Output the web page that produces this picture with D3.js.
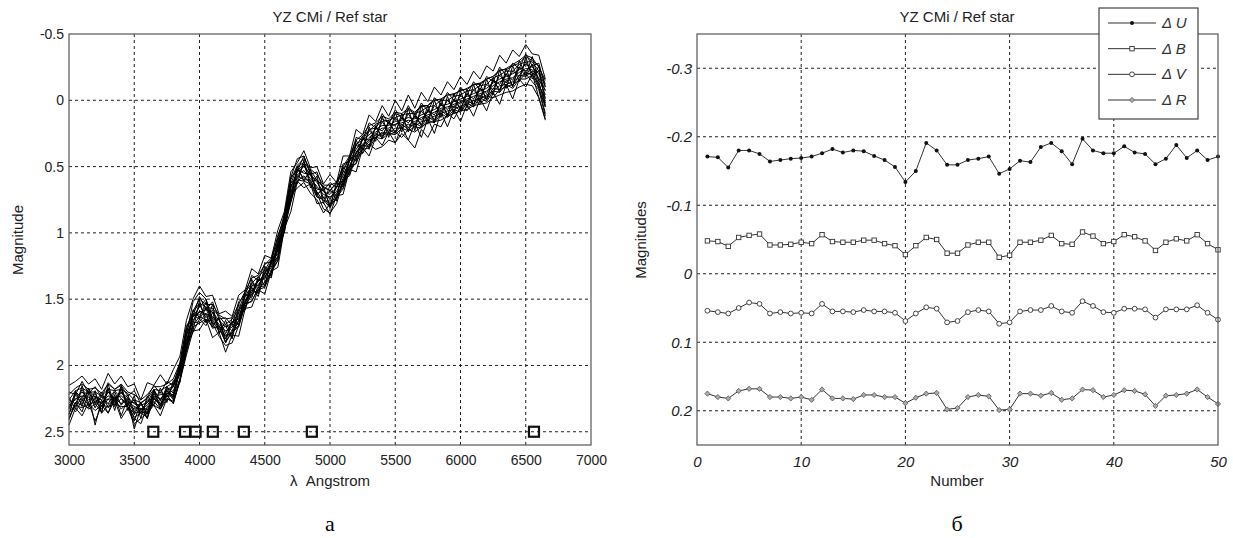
<html lang="en">
<head>
<meta charset="UTF-8">
<title>YZ CMi / Ref star</title>
<style>
  body { margin: 0; background: #fff; }
  text { font-family: "Liberation Sans", Arial, sans-serif; fill: #222; }
  .frame { fill: none; stroke: #555; stroke-width: 1.2px; }
  .grid { stroke: #222; stroke-width: 1px; stroke-dasharray: 3,3; fill: none; }
  .spec { fill: none; stroke: #000; stroke-width: 1px; stroke-linejoin: round; }
  .ser { fill: none; stroke: #333; stroke-width: 1px; }
  .tick text { font-size: 14px; }
  .ital .tick text { font-style: italic; font-size: 15px; }
  .cap { font-family: "Liberation Serif", "DejaVu Serif", serif; font-size: 22px; fill: #000; }
</style>
</head>
<body>
<script src="https://cdnjs.cloudflare.com/ajax/libs/d3/7.8.5/d3.min.js"></script>
<script>

// ---- panel a: spectra (magnitudes, x100), sampled every 50 A from 3000 to 6650
var wl = d3.range(3000, 6651, 50);
var spectra = [
  [232,221,226,220,228,224,226,219,225,229, 233,229,234,218,227,216,221,201,184,161, 162,156,165,165,176,167,165,147,145,135, 135,121,116,88,71,52,55,56,67,68, 75,65,61,45,41,29,30,21,23,17, 19,13,17,12,15,8,11,3,7,0, 3,-5,-1,-9,-5,-15,-12,-20,-15,-25, -22,-27,-15,-8],
  [235,231,224,230,227,233,225,230,225,231, 236,235,236,225,230,223,223,210,186,170, 163,166,166,174,177,176,166,156,146,143, 137,130,117,98,73,61,57,63,69,76, 76,74,62,54,42,37,31,28,24,25, 21,21,18,20,16,15,12,10,8,7, 4,3,0,-1,-4,-7,-11,-12,-14,-17, -21,-19,-13,2],
  [226,219,217,220,220,223,218,219,218,221, 226,228,225,218,219,216,213,200,175,160, 153,156,157,163,169,165,158,145,138,133, 128,120,107,87,63,50,47,53,60,65, 68,63,54,43,34,27,23,18,16,15, 13,11,10,10,8,5,4,0,0,-3, -4,-7,-8,-11,-12,-17,-19,-22,-22,-27, -29,-29,-22,-10],
  [239,230,232,229,234,230,231,229,231,231, 239,236,239,227,233,225,227,211,190,171, 168,165,171,172,182,175,171,155,151,143, 141,130,121,97,77,60,61,63,73,75, 81,73,67,53,47,37,36,28,29,25, 26,21,23,20,21,15,17,10,13,7, 9,2,5,-2,1,-7,-6,-12,-9,-16, -16,-19,-9,5],
  [222,217,214,218,217,221,214,218,214,220, 222,226,222,216,216,214,210,198,172,159, 150,154,154,162,165,164,154,144,134,132, 124,119,104,86,60,49,44,52,56,64, 64,62,50,42,30,26,19,17,12,14, 9,10,6,9,4,4,0,-1,-4,-4, -8,-8,-12,-12,-16,-18,-23,-23,-26,-28, -33,-30,-26,-12],
  [237,222,229,219,232,222,229,220,230,224, 237,228,237,219,231,216,225,203,187,162, 165,157,169,165,180,167,169,147,149,135, 139,122,119,89,75,52,59,55,71,67, 79,65,65,45,45,29,34,20,27,17, 24,13,21,12,19,7,15,2,11,-1, 7,-5,3,-9,-1,-15,-8,-20,-11,-25, -18,-27,-11,-2],
  [226,229,218,228,221,231,218,228,218,230, 226,236,226,226,220,224,214,207,176,168, 154,164,158,172,169,174,158,154,138,142, 128,129,108,96,64,59,48,62,60,74, 68,72,54,52,34,36,23,27,16,24, 13,20,10,19,8,14,4,9,0,6, -4,2,-8,-2,-12,-8,-19,-13,-22,-18, -29,-20,-22,-1],
  [228,226,220,226,223,229,220,226,220,228, 228,234,228,224,222,222,216,204,182,163, 156,150,165,170,178,176,166,152,140,140, 130,122,110,90,58,44,42,55,70,82, 85,78,62,50,40,34,30,28,25,26, 24,28,22,24,20,17,16,15,12,10, 8,7,4,3,2,-2,-4,-6,-7,-10, -12,-11,-2,15],
  [240,228,235,221,245,226,236,222,238,225, 248,232,240,224,230,221,222,203,177,152, 145,150,168,178,185,183,170,152,145,136, 134,124,113,93,66,53,48,57,60,66, 68,62,52,44,33,30,22,21,14,17, 10,12,7,10,5,4,-1,0,-4,-5, -7,-9,-12,-13,-16,-18,-22,-24,-27,-30, -34,-32,-25,-15],
  [231,225,223,224,226,228,223,224,223,227, 231,233,230,223,225,221,219,206,181,166, 159,161,163,169,174,171,163,151,143,139, 133,126,113,93,69,56,53,59,65,71, 73,69,59,49,39,33,28,24,21,21, 18,17,15,16,13,11,9,6,5,3, 1,-1,-3,-5,-7,-11,-14,-16,-17,-21, -24,-23,-17,-4],
  [229,235,226,233,229,220,232,224,229,222, 235,228,240,221,229,219,226,212,185,175, 165,170,160,175,170,180,160,158,141,148, 130,134,110,100,72,66,62,70,75,85, 78,75,60,57,42,40,33,37,35,30, 32,25,30,36,22,28,18,20,10,14, 5,8,0,3,-3,-2,-8,-10,-12,-15, -20,-14,-8,12],
  [233,220,224,218,224,226,220,225,221,224, 229,230,228,219,226,218,216,201,178,163, 160,158,160,166,171,168,160,148,140,137, 131,123,111,90,66,54,50,56,62,69, 71,66,57,46,37,30,26,22,19,19, 16,15,13,14,11,9,7,4,3,1, -1,-3,-5,-7,-9,-13,-16,-18,-20,-23, -27,-25,-20,-7],
  [237,219,231,217,229,235,217,234,216,231, 242,228,236,219,233,218,224,200,188,158, 164,152,171,164,183,164,170,143,148,133, 140,121,121,86,75,50,61,52,72,65, 81,62,65,42,46,27,37,19,29,15, 25,10,24,10,19,4,17,-1,12,-5, 8,-8,5,-13,0,-17,-6,-24,-10,-30, -19,-33,-14,5],
  [224,233,215,231,219,236,214,231,215,234, 223,240,223,230,217,228,211,213,172,174, 151,168,154,176,166,179,154,158,135,146, 125,133,104,100,61,63,45,66,57,78, 64,76,50,56,30,40,20,31,12,28, 9,24,6,23,4,18,0,13,-3,10, -7,6,-12,2,-16,-4,-23,-9,-26,-14, -33,-16,-26,4],
  [241,228,230,232,224,236,230,225,233,228, 240,244,231,230,233,222,229,210,188,168, 167,161,172,170,183,174,170,153,152,141, 140,128,121,95,76,57,60,60,73,73, 80,70,66,50,48,34,35,25,28,22, 25,18,22,17,20,12,16,7,12,4, 8,0,3,-4,-1,-9,-8,-15,-11,-19, -18,-22,-10,10],
  [220,222,212,221,216,224,213,218,215,223, 219,229,224,215,221,212,215,198,170,163, 148,158,152,165,164,170,152,147,132,136, 123,122,102,89,58,53,42,56,54,68, 62,66,48,46,28,30,17,21,10,18, 7,14,4,13,2,8,-2,3,-6,0, -10,-4,-14,-8,-18,-14,-25,-19,-28,-24, -35,-26,-28,-10],
  [245,232,238,228,242,230,236,226,240,232, 244,240,236,230,238,225,228,212,192,174, 173,165,179,175,190,177,178,157,156,143, 146,129,126,97,84,61,66,63,78,77, 86,72,71,52,54,36,42,28,34,24, 32,20,30,17,28,14,25,9,20,7, 16,3,12,-1,8,-6,3,-12,-1,-16, -10,-20,-2,14],
  [215,212,208,214,210,218,206,214,208,216, 214,226,213,215,207,214,203,193,166,150, 140,148,147,161,159,163,147,143,127,131, 117,119,98,84,54,47,38,51,50,63, 56,62,42,42,22,26,11,16,4,12, 0,8,-4,6,-6,1,-10,-4,-14,-8, -18,-12,-22,-16,-26,-22,-34,-28,-38,-33, -42,-35,-34,-16]
];
// Balmer line markers
var lines = [3646, 3889, 3970, 4102, 4340, 4861, 6563];
var linesMag = 2.5;
var xTicksA = [3000, 3500, 4000, 4500, 5000, 5500, 6000, 6500, 7000];
var yTicksA = [-0.5, 0, 0.5, 1, 1.5, 2, 2.5];

// ---- panel b: differential magnitudes for 50 frames
var frames = d3.range(1, 51);
var dU = [-0.171,-0.170,-0.155,-0.180,-0.180,-0.175,-0.164,-0.166,-0.168,-0.169,
          -0.171,-0.176,-0.182,-0.177,-0.180,-0.179,-0.172,-0.166,-0.156,-0.134,
          -0.150,-0.191,-0.180,-0.159,-0.159,-0.166,-0.168,-0.171,-0.146,-0.153,
          -0.165,-0.163,-0.185,-0.191,-0.179,-0.160,-0.197,-0.180,-0.176,-0.176,
          -0.186,-0.177,-0.175,-0.160,-0.168,-0.188,-0.169,-0.180,-0.166,-0.171];
var dB = [-0.048,-0.047,-0.040,-0.053,-0.056,-0.058,-0.042,-0.042,-0.043,-0.046,
          -0.044,-0.057,-0.047,-0.046,-0.046,-0.049,-0.049,-0.044,-0.041,-0.028,
          -0.041,-0.053,-0.050,-0.030,-0.030,-0.042,-0.046,-0.046,-0.024,-0.027,
          -0.046,-0.046,-0.049,-0.056,-0.044,-0.043,-0.061,-0.055,-0.044,-0.047,
          -0.057,-0.054,-0.048,-0.034,-0.046,-0.051,-0.048,-0.057,-0.044,-0.035];
var dV = [0.054,0.056,0.058,0.050,0.042,0.044,0.058,0.056,0.058,0.057,
          0.058,0.044,0.055,0.055,0.056,0.053,0.055,0.055,0.057,0.069,
          0.058,0.049,0.051,0.071,0.069,0.056,0.053,0.055,0.073,0.071,
          0.055,0.053,0.053,0.047,0.055,0.057,0.040,0.047,0.056,0.057,
          0.051,0.051,0.052,0.064,0.052,0.052,0.052,0.046,0.057,0.067];
var dR = [0.175,0.180,0.182,0.171,0.168,0.168,0.180,0.180,0.182,0.180,
          0.184,0.169,0.182,0.182,0.183,0.177,0.177,0.180,0.180,0.189,
          0.181,0.175,0.174,0.198,0.196,0.180,0.177,0.179,0.199,0.198,
          0.175,0.175,0.178,0.174,0.184,0.182,0.169,0.170,0.180,0.177,
          0.170,0.171,0.176,0.193,0.178,0.177,0.175,0.169,0.180,0.190];
var seriesNames = ["U", "B", "V", "R"];
var xTicksB = [0, 10, 20, 30, 40, 50];
var yTicksB = [-0.3, -0.2, -0.1, 0, 0.1, 0.2];

var svg = d3.select("body").append("svg")
  .attr("width", 1233)
  .attr("height", 538);

svg.append("rect").attr("width", 1233).attr("height", 538).attr("fill", "#fff");

// ================= panel a =================
var xa = d3.scaleLinear().domain([3000, 7000]).range([69, 591]),
    ya = d3.scaleLinear().domain([-0.5, 2.6]).range([34, 445]);

var ga = svg.append("g");

ga.selectAll(".gx").data(xTicksA.slice(1, -1)).enter().append("line")
  .attr("class", "grid")
  .attr("x1", xa).attr("x2", xa)
  .attr("y1", ya.range()[0]).attr("y2", ya.range()[1]);

ga.selectAll(".gy").data(yTicksA.slice(1)).enter().append("line")
  .attr("class", "grid")
  .attr("x1", xa.range()[0]).attr("x2", xa.range()[1])
  .attr("y1", ya).attr("y2", ya);

var lineA = d3.line()
  .x(function(d) { return xa(d[0]); })
  .y(function(d) { return ya(d[1]); });

ga.selectAll(".spec").data(spectra).enter().append("path")
  .attr("class", "spec")
  .attr("d", function(row) {
    return lineA(row.map(function(v, i) { return [wl[i], v / 100]; }));
  });

ga.selectAll(".mk").data(lines).enter().append("rect")
  .attr("x", function(d) { return xa(d) - 5; })
  .attr("y", ya(linesMag) - 5)
  .attr("width", 10).attr("height", 10)
  .attr("fill", "none").attr("stroke", "#111").attr("stroke-width", 2.2);

ga.append("rect").attr("class", "frame")
  .attr("x", 69).attr("y", 34).attr("width", 591 - 69).attr("height", 445 - 34);

ga.append("g")
  .attr("transform", "translate(0,445)")
  .call(d3.axisBottom(xa).tickValues(xTicksA).tickSize(0).tickPadding(10).tickFormat(String))
  .call(function(g) { g.select(".domain").remove(); });

ga.append("g")
  .attr("transform", "translate(69,0)")
  .call(d3.axisLeft(ya).tickValues(yTicksA).tickSize(0).tickPadding(5).tickFormat(String))
  .call(function(g) { g.select(".domain").remove(); });

ga.selectAll(".tick text").attr("fill", "#222");

ga.append("text").attr("x", 330).attr("y", 22).attr("text-anchor", "middle")
  .style("font-size", "15px").text("YZ CMi / Ref star");
ga.append("text").attr("x", 330).attr("y", 486).attr("text-anchor", "middle")
  .style("font-size", "15px").text("\u03bb\u00a0\u00a0Angstrom");
ga.append("text").attr("transform", "translate(23,240) rotate(-90)").attr("text-anchor", "middle")
  .style("font-size", "15px").text("Magnitude");
ga.append("text").attr("class", "cap").attr("x", 330).attr("y", 531).attr("text-anchor", "middle").text("\u0430");

// ================= panel b =================
var xb = d3.scaleLinear().domain([0, 50]).range([697, 1218]),
    yb = d3.scaleLinear().domain([-0.35, 0.25]).range([34, 445]);

var gb = svg.append("g");

gb.selectAll(".gx").data(xTicksB.slice(1, -1)).enter().append("line")
  .attr("class", "grid")
  .attr("x1", xb).attr("x2", xb)
  .attr("y1", yb.range()[0]).attr("y2", yb.range()[1]);

gb.selectAll(".gy").data(yTicksB).enter().append("line")
  .attr("class", "grid")
  .attr("x1", xb.range()[0]).attr("x2", xb.range()[1])
  .attr("y1", yb).attr("y2", yb);

var lineB = d3.line()
  .x(function(d, i) { return xb(frames[i]); })
  .y(function(d) { return yb(d); });

var allSeries = [dU, dB, dV, dR];

var markers = {
  U: function(sel) {
    sel.append("circle").attr("r", 2).attr("fill", "#111").attr("stroke", "none");
  },
  B: function(sel) {
    sel.append("rect").attr("x", -2.2).attr("y", -2.2).attr("width", 4.4).attr("height", 4.4)
      .attr("fill", "#fff").attr("stroke", "#333").attr("stroke-width", 0.9);
  },
  V: function(sel) {
    sel.append("circle").attr("r", 2.4).attr("fill", "#fff").attr("stroke", "#333").attr("stroke-width", 0.9);
  },
  R: function(sel) {
    sel.append("path").attr("d", "M0,-2.6L2.6,0L0,2.6L-2.6,0Z")
      .attr("fill", "#aaa").attr("stroke", "#555").attr("stroke-width", 0.8);
  }
};

allSeries.forEach(function(vals, k) {
  gb.append("path").attr("class", "ser").attr("d", lineB(vals));
  gb.selectAll(".m" + k).data(vals).enter().append("g")
    .attr("transform", function(d, i) { return "translate(" + xb(frames[i]) + "," + yb(d) + ")"; })
    .call(markers[seriesNames[k]]);
});

gb.append("rect").attr("class", "frame")
  .attr("x", 697).attr("y", 34).attr("width", 1218 - 697).attr("height", 445 - 34);

gb.append("g").attr("class", "ital")
  .attr("transform", "translate(0,445)")
  .call(d3.axisBottom(xb).tickValues(xTicksB).tickSize(0).tickPadding(11).tickFormat(String))
  .call(function(g) { g.select(".domain").remove(); });

gb.append("g").attr("class", "ital")
  .attr("transform", "translate(697,0)")
  .call(d3.axisLeft(yb).tickValues(yTicksB).tickSize(0).tickPadding(5).tickFormat(String))
  .call(function(g) { g.select(".domain").remove(); });

gb.selectAll(".tick text").attr("fill", "#333");

gb.append("text").attr("x", 957).attr("y", 22).attr("text-anchor", "middle")
  .style("font-size", "15px").text("YZ CMi / Ref star");
gb.append("text").attr("x", 957).attr("y", 486).attr("text-anchor", "middle")
  .style("font-size", "15px").text("Number");
gb.append("text").attr("transform", "translate(646,240) rotate(-90)").attr("text-anchor", "middle")
  .style("font-size", "15px").text("Magnitudes");
gb.append("text").attr("class", "cap").attr("x", 957).attr("y", 531).attr("text-anchor", "middle").text("\u0431");

// legend
var leg = gb.append("g");
leg.append("rect").attr("x", 1099).attr("y", 8).attr("width", 99).attr("height", 111)
  .attr("fill", "#fff").attr("stroke", "#444").attr("stroke-width", 1.2);
var legY = d3.scalePoint().domain(seriesNames).range([23, 100]);
seriesNames.forEach(function(name) {
  var y = legY(name);
  leg.append("line").attr("x1", 1108).attr("x2", 1156).attr("y1", y).attr("y2", y)
    .attr("stroke", "#333").attr("stroke-width", 1);
  leg.append("g").attr("transform", "translate(1132," + y + ")").call(markers[name]);
  leg.append("text").attr("x", 1162).attr("y", y + 5)
    .style("font-size", "15px").style("font-style", "italic").style("fill", "#333")
    .text("\u0394 " + name);
});

</script>
</body>
</html>
